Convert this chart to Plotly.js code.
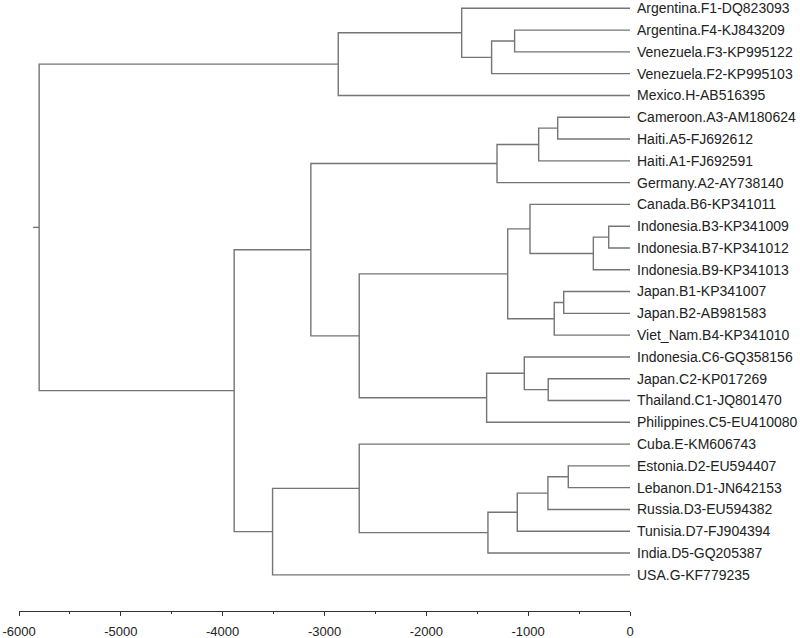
<!DOCTYPE html>
<html>
<head>
<meta charset="utf-8">
<script src="https://cdn.plot.ly/plotly-3.0.1.min.js"></script>
<style>html,body{margin:0;padding:0;background:#fff;}#chart{width:800px;height:638px;}</style>
</head>
<body>
<div id="chart"></div>
<script>
// Leaf labels, top to bottom
const leafNames = [
  'Argentina.F1-DQ823093','Argentina.F4-KJ843209','Venezuela.F3-KP995122','Venezuela.F2-KP995103',
  'Mexico.H-AB516395','Cameroon.A3-AM180624','Haiti.A5-FJ692612','Haiti.A1-FJ692591',
  'Germany.A2-AY738140','Canada.B6-KP341011','Indonesia.B3-KP341009','Indonesia.B7-KP341012',
  'Indonesia.B9-KP341013','Japan.B1-KP341007','Japan.B2-AB981583','Viet_Nam.B4-KP341010',
  'Indonesia.C6-GQ358156','Japan.C2-KP017269','Thailand.C1-JQ801470','Philippines.C5-EU410080',
  'Cuba.E-KM606743','Estonia.D2-EU594407','Lebanon.D1-JN642153','Russia.D3-EU594382',
  'Tunisia.D7-FJ904394','India.D5-GQ205387','USA.G-KF779235'
];

// Internal nodes (children may be leaves or nodes), with their heights on the time axis
const nodeNames  = ['F4F3','Fsub','Fclade','FH','CamA5','A3','Aclade','B3B7','Indo','CanIndo','B1B2','Jap','Bclade','C2C1','C3','Cclade','BC','ABC','D2D1','D3','Dsub','Dclade','ED','DEG','Rest','Root'];
const nodeLeft   = ['Argentina.F4-KJ843209','F4F3','Argentina.F1-DQ823093','Fclade','Cameroon.A3-AM180624','CamA5','A3','Indonesia.B3-KP341009','B3B7','Canada.B6-KP341011','Japan.B1-KP341007','B1B2','CanIndo','Japan.C2-KP017269','Indonesia.C6-GQ358156','C3','Bclade','Aclade','Estonia.D2-EU594407','D2D1','D3','Dsub','Cuba.E-KM606743','ED','ABC','FH'];
const nodeRight  = ['Venezuela.F3-KP995122','Venezuela.F2-KP995103','Fsub','Mexico.H-AB516395','Haiti.A5-FJ692612','Haiti.A1-FJ692591','Germany.A2-AY738140','Indonesia.B7-KP341012','Indonesia.B9-KP341013','Indo','Japan.B2-AB981583','Viet_Nam.B4-KP341010','Jap','Thailand.C1-JQ801470','C2C1','Philippines.C5-EU410080','Cclade','BC','Lebanon.D1-JN642153','Russia.D3-EU594382','Tunisia.D7-FJ904394','India.D5-GQ205387','Dclade','USA.G-KF779235','DEG','Rest'];
const nodeHeight = [-1133,-1359,-1653,-2865,-710,-897,-1306,-209,-360,-982,-651,-744,-1201,-803,-1038,-1408,-2659,-3134,-606,-806,-1107,-1395,-2659,-3510,-3887,-5802];
const rootStubStart = -5862;

const tickValues = [-6000,-5000,-4000,-3000,-2000,-1000,0];
const tickLabels = ['-6000','-5000','-4000','-3000','-2000','-1000','0'];

// compute positions
const pos = {};
leafNames.forEach((n,i)=>{ pos[n] = {x:0, y:i}; });
nodeNames.forEach((n,i)=>{
  const a = pos[nodeLeft[i]], b = pos[nodeRight[i]];
  pos[n] = {x:nodeHeight[i], y:(a.y+b.y)/2};
});
const xs = [], ys = [];
nodeNames.forEach((n,i)=>{
  const p = pos[n], a = pos[nodeLeft[i]], b = pos[nodeRight[i]];
  xs.push(a.x, p.x, p.x, b.x, null);
  ys.push(a.y, a.y, b.y, b.y, null);
});
const root = pos['Root'];
xs.push(rootStubStart, root.x, null);
ys.push(root.y, root.y, null);

const data = [{
  type:'scatter', mode:'lines', x:xs, y:ys,
  line:{color:'#757575', width:1.4, shape:'linear'},
  hoverinfo:'skip', showlegend:false, cliponaxis:false
}];

const layout = {
  width:800, height:638,
  margin:{l:19, r:170, t:0, b:27, pad:0},
  paper_bgcolor:'#ffffff', plot_bgcolor:'#ffffff',
  font:{family:'Liberation Sans, Arial, sans-serif', color:'#222222'},
  showlegend:false, hovermode:false,
  xaxis:{
    range:[-6000,0], showgrid:false, zeroline:false,
    showline:true, linecolor:'#333333', linewidth:1,
    ticks:'outside', ticklen:4, tickcolor:'#333333', tickwidth:1,
    tickvals:tickValues, ticktext:tickLabels,
    tickfont:{size:13, color:'#222222'}, ticklabelstandoff:4,
    minor:{ticks:'outside', ticklen:2, tickcolor:'#333333', dtick:500, tick0:0, showgrid:false}
  },
  yaxis:{
    range:[27.66,-0.381], side:'right', showgrid:false, zeroline:false, showline:false,
    ticks:'', tickvals:leafNames.map((n,i)=>i), ticktext:leafNames,
    tickfont:{size:14, color:'#222222'}, ticklabelstandoff:6
  }
};

Plotly.newPlot('chart', data, layout, {displayModeBar:false, staticPlot:true});
</script>
</body>
</html>
